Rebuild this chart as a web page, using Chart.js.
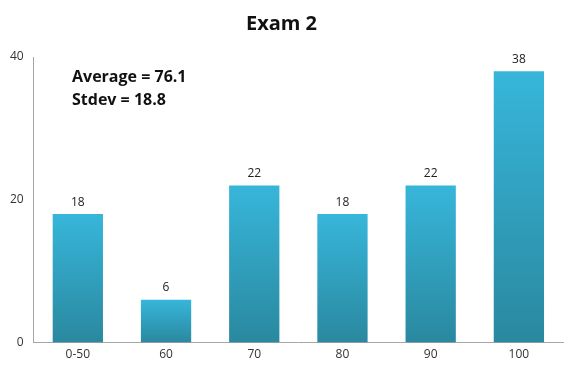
<!DOCTYPE html>
<html>
<head>
<meta charset="utf-8">
<script src="https://cdn.jsdelivr.net/npm/chart.js@4.4.1/dist/chart.umd.min.js"></script>
<style>
  html, body { margin: 0; padding: 0; background: #fff; }
  #wrap { width: 577px; height: 377px; }
</style>
</head>
<body>
<div id="wrap"><canvas id="examChart"></canvas></div>
<script>
// data
const categories = ['0-50', '60', '70', '80', '90', '100'];
const counts = [18, 6, 22, 18, 22, 38];
const yTicks = [0, 20, 40];
const notes = ['Average = 76.1', 'Stdev = 18.8'];

const FONT = "'Open Sans', 'DejaVu Sans', sans-serif";

// value labels above bars, per-bar gradient, and the average / stdev text
const labelsPlugin = {
    id: 'labelsPlugin',
    beforeDatasetsDraw(chart) {
        const ctx = chart.ctx;
        const meta = chart.getDatasetMeta(0);
        meta.data.forEach(function (bar) {
            if (!isFinite(bar.y) || !isFinite(bar.base)) return;
            const g = ctx.createLinearGradient(0, bar.y, 0, bar.base);
            g.addColorStop(0, '#37b6da');
            g.addColorStop(1, '#2a889f');
            bar.options = Object.assign({}, bar.options, { backgroundColor: g });
        });
    },
    afterDatasetsDraw(chart) {
        const ctx = chart.ctx;
        const meta = chart.getDatasetMeta(0);
        ctx.save();
        ctx.fillStyle = '#222';
        ctx.font = '12px ' + FONT;
        ctx.textAlign = 'center';
        ctx.textBaseline = 'bottom';
        meta.data.forEach(function (bar, i) {
            ctx.fillText(counts[i], bar.x, bar.y - 6);
        });
        ctx.font = 'bold 16px ' + FONT;
        ctx.textAlign = 'left';
        ctx.textBaseline = 'middle';
        ctx.fillStyle = '#111';
        notes.forEach(function (t, i) {
            ctx.fillText(t, 72, 77 + i * 23);
        });
        ctx.restore();
    }
};

const ctx = document.getElementById('examChart').getContext('2d');
const myChart = new Chart(ctx, {
    type: 'bar',
    data: {
        labels: categories,
        datasets: [{
            label: 'Exam 2',
            data: counts,
            backgroundColor: function () { return '#31a9cc'; },
            borderWidth: 0,
            categoryPercentage: 1,
            barPercentage: 0.57
        }]
    },
    options: {
        responsive: true,
        maintainAspectRatio: false,
        animation: false,
        layout: { padding: { left: 0, right: 14, top: 4, bottom: 10 } },
        plugins: {
            legend: { display: false },
            tooltip: { enabled: false },
            title: {
                display: true,
                text: 'Exam 2',
                color: '#111',
                font: { family: FONT, size: 20, weight: 'bold' },
                padding: { top: 8, bottom: 21 }
            }
        },
        scales: {
            x: {
                grid: { display: false, drawTicks: false },
                border: { display: true, color: '#a6a6a6', width: 1 },
                ticks: { color: '#333', font: { family: FONT, size: 12 }, padding: 5 }
            },
            y: {
                min: 0,
                max: 40,
                afterBuildTicks: function (axis) {
                    axis.ticks = yTicks.map(function (v) { return { value: v }; });
                },
                grid: { display: false, drawTicks: false },
                border: { display: true, color: '#a6a6a6', width: 1 },
                ticks: { color: '#333', font: { family: FONT, size: 12 }, padding: 10 }
            }
        }
    },
    plugins: [labelsPlugin]
});
</script>
</body>
</html>
